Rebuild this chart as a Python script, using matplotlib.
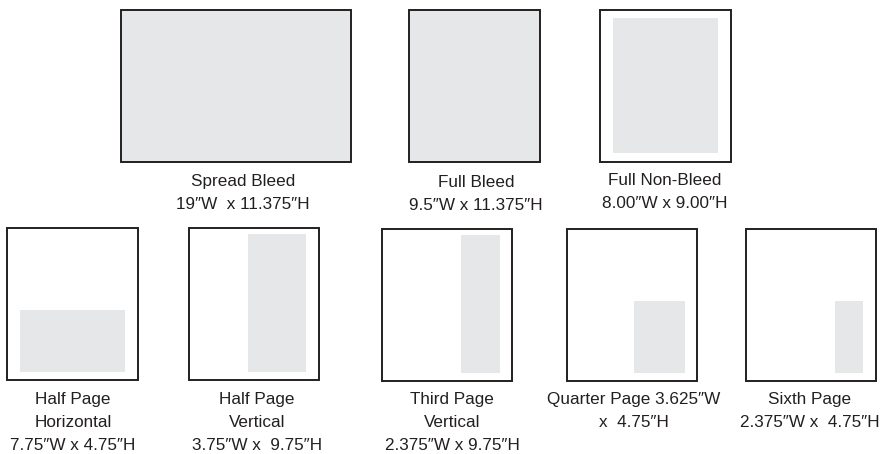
import matplotlib
matplotlib.use("Agg")
import matplotlib.pyplot as plt
from matplotlib.patches import Rectangle

# Ad names and their caption lines
names = ["Spread Bleed", "Full Bleed", "Full Non-Bleed",
         "Half Page Horizontal", "Half Page Vertical", "Third Page Vertical",
         "Quarter Page", "Sixth Page"]
captions = [
    ["Spread Bleed", "19\u2033W  x 11.375\u2033H"],
    ["Full Bleed", "9.5\u2033W x 11.375\u2033H"],
    ["Full Non-Bleed", "8.00\u2033W x 9.00\u2033H"],
    ["Half Page", "Horizontal", "7.75\u2033W x 4.75\u2033H"],
    ["Half Page", "Vertical", "3.75\u2033W x  9.75\u2033H"],
    ["Third Page", "Vertical", "2.375\u2033W x 9.75\u2033H"],
    ["Quarter Page 3.625\u2033W", "x  4.75\u2033H"],
    ["Sixth Page", "2.375\u2033W x  4.75\u2033H"],
]

# Layout (pixel units): outer page box (x0, y0, x1, y1)
outer_boxes = [
    (121, 10, 351, 162),
    (409, 10, 540, 162),
    (600, 10, 731, 162),
    (7, 228, 138, 380),
    (189, 228, 319, 380),
    (382, 229, 512, 381),
    (567, 229, 697, 381),
    (746, 229, 876, 381),
]
# Shaded ad area (x0, y0, x1, y1); None = whole box filled
inner_boxes = [
    None,
    None,
    (613, 18, 718, 153),
    (20, 310, 125, 372),
    (248, 234, 306, 372),
    (461, 235, 500, 373),
    (634, 301, 685, 373),
    (835, 301, 863, 373),
]
caption_x = [243, 476, 665, 73, 257, 452, 634, 810]
caption_y0 = [186, 187, 185, 404, 404, 404, 404, 404]
line_gap = 23

fill_color = "#e6e7e8"
edge_color = "#231f20"

fig = plt.figure(figsize=(8.86, 4.54), dpi=100)
ax = fig.add_axes([0, 0, 1, 1])
ax.set_xlim(0, 886)
ax.set_ylim(454, 0)
ax.axis("off")

for i in range(len(names)):
    x0, y0, x1, y1 = outer_boxes[i]
    inner = inner_boxes[i]
    face = fill_color if inner is None else "white"
    ax.add_patch(Rectangle((x0, y0), x1 - x0, y1 - y0, facecolor=face,
                           edgecolor=edge_color, linewidth=1.4, zorder=2))
    if inner is not None:
        ix0, iy0, ix1, iy1 = inner
        ax.add_patch(Rectangle((ix0, iy0), ix1 - ix0, iy1 - iy0,
                               facecolor=fill_color, edgecolor="none", zorder=3))
    for j, line in enumerate(captions[i]):
        ax.text(caption_x[i], caption_y0[i] + j * line_gap, line,
                ha="center", va="baseline", fontsize=12.3,
                family=["Liberation Sans", "DejaVu Sans"], color="#231f20")

fig.savefig("out.png", dpi=100)
